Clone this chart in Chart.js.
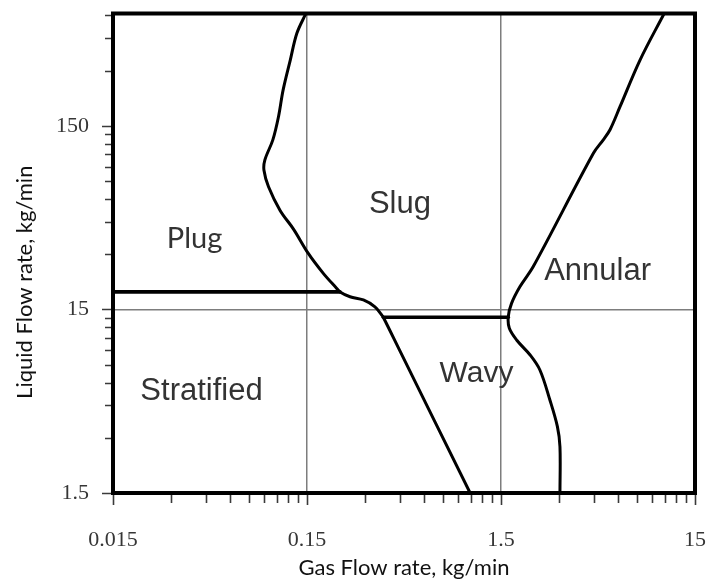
<!DOCTYPE html>
<html>
<head>
<meta charset="utf-8">
<script src="https://cdn.jsdelivr.net/npm/chart.js@4.4.1/dist/chart.umd.min.js"></script>
<style>
  html, body { margin: 0; padding: 0; background: #fff; }
  canvas { display: block; }
</style>
</head>
<body>
<canvas id="map" width="713" height="581"></canvas>
<script>
// ---- Flow regime map: gas vs liquid mass flow rate (kg/min), log-log ----

// Axis ranges
const gasRange = [0.015, 15];
const liquidRange = [1.5, 615];

// Tick positions (labelled decades plus unlabelled multiples)
const gasTicks = [0.015, 0.03, 0.045, 0.06, 0.075, 0.09, 0.105, 0.12, 0.135,
                  0.15, 0.3, 0.45, 0.6, 0.75, 0.9, 1.05, 1.2, 1.35,
                  1.5, 3, 4.5, 6, 7.5, 9, 10.5, 12, 13.5, 15];
const liquidTicks = [1.5, 3, 4.5, 6, 7.5, 9, 10.5, 12, 13.5,
                     15, 30, 45, 60, 75, 90, 105, 120, 135,
                     150, 300, 450, 600];
const gasLabels = [0.015, 0.15, 1.5, 15];
const liquidLabels = [1.5, 15, 150];

// Regime boundaries as [gas, liquid] pairs
const plugSlugBoundary = [
  [0.148, 615], [0.133, 480], [0.123, 343], [0.113, 236], [0.107, 169],
  [0.100, 126], [0.091, 98], [0.090, 86], [0.095, 70], [0.109, 52],
  [0.128, 41], [0.152, 30.4], [0.182, 23.6], [0.213, 19.6], [0.222, 18.7],
  [0.25, 17.6], [0.293, 16.9], [0.336, 15.5], [0.364, 14.0], [0.371, 13.6],
  [0.45, 9.0], [1.04, 1.5]
];
const plugStratifiedBoundary = [[0.015, 18.7], [0.222, 18.7]];
const slugWavyBoundary = [[0.371, 13.6], [1.635, 13.6]];
const annularBoundary = [
  [10.4, 615], [7.81, 343], [6.16, 191], [5.47, 143], [5.05, 126],
  [4.49, 106.5], [2.20, 25.7], [1.88, 20.0], [1.70, 16.2], [1.635, 13.7],
  [1.656, 11.85], [1.81, 10.2], [2.12, 8.47], [2.38, 7.02], [2.68, 4.82],
  [2.93, 3.45], [3.02, 2.68], [3.02, 1.5]
];

// Regime names and their anchor points (gas, liquid)
const regimeNames = ['Plug', 'Slug', 'Annular', 'Stratified', 'Wavy'];
const regimeGas = [0.0395, 0.452, 4.72, 0.0429, 1.121];
const regimeLiquid = [36.3, 55.7, 24.3, 5.39, 6.68];

// ---- styling ----
const serif = '"Liberation Serif", "Times New Roman", serif';
const sans = '"Liberation Sans", Arial, Helvetica, sans-serif';
const humanist = 'Lato, "Open Sans", sans-serif';
const regimeFonts = {
  Plug: '29px ' + humanist,
  Slug: '31px ' + sans,
  Annular: '31px ' + sans,
  Stratified: '31px ' + sans,
  Wavy: '30px ' + sans
};

const toPoints = pairs => pairs.map(([x, y]) => ({ x, y }));

const innerGrid = (values) => (c) =>
  (c.tick && values.includes(c.tick.value) &&
   c.tick.value !== values[0] && c.tick.value !== values[values.length - 1])
    ? '#7d7d7d' : 'rgba(0,0,0,0)';

// Scales keep a fixed size and add no edge padding of their own
const noEdgePadding = s => {
  s.paddingLeft = 0; s.paddingRight = 0; s.paddingTop = 0; s.paddingBottom = 0;
};

// Frame, tick marks, regime names and the vertical axis title
const decorations = {
  id: 'decorations',
  afterDraw(chart) {
    const { ctx, chartArea: a, scales: { x, y } } = chart;
    ctx.save();

    // tick marks outside the frame
    ctx.strokeStyle = '#3a3a3a';
    ctx.lineWidth = 1.6;
    ctx.beginPath();
    gasTicks.forEach(v => {
      const px = Math.round(x.getPixelForValue(v)) + 0.5;
      const major = gasLabels.includes(v);
      ctx.moveTo(px, a.bottom + (major ? 0 : 2));
      ctx.lineTo(px, a.bottom + (major ? 12 : 10));
    });
    liquidTicks.forEach(v => {
      const py = Math.round(y.getPixelForValue(v)) + 0.5;
      const major = liquidLabels.includes(v);
      ctx.moveTo(a.left, py);
      ctx.lineTo(a.left - (major ? 11 : 8), py);
    });
    ctx.stroke();

    // heavy frame
    ctx.strokeStyle = '#000';
    ctx.lineWidth = 4;
    ctx.strokeRect(a.left, a.top, a.right - a.left, a.bottom - a.top);

    // regime names
    ctx.fillStyle = '#333';
    ctx.textAlign = 'center';
    ctx.textBaseline = 'middle';
    regimeNames.forEach((name, i) => {
      ctx.font = regimeFonts[name];
      ctx.fillText(name, x.getPixelForValue(regimeGas[i]), y.getPixelForValue(regimeLiquid[i]));
    });

    // vertical axis title
    ctx.fillStyle = '#111';
    ctx.font = '22px ' + humanist;
    ctx.translate(25, (a.top + a.bottom) / 2 + 29);
    ctx.rotate(-Math.PI / 2);
    ctx.fillText('Liquid Flow rate, kg/min', 0, 0);
    ctx.restore();
  }
};

new Chart(document.getElementById('map'), {
  type: 'scatter',
  data: {
    datasets: [
      { data: toPoints(plugSlugBoundary), tension: 0.35, borderWidth: 3 },
      { data: toPoints(plugStratifiedBoundary), tension: 0, borderWidth: 3.6 },
      { data: toPoints(slugWavyBoundary), tension: 0, borderWidth: 3.6 },
      { data: toPoints(annularBoundary), tension: 0.35, borderWidth: 3 }
    ]
  },
  options: {
    responsive: false,
    animation: false,
    devicePixelRatio: 1,
    layout: { padding: { top: 13.5, right: 18, bottom: 0, left: 0 } },
    showLine: true,
    elements: {
      point: { radius: 0, hoverRadius: 0 },
      line: { borderColor: '#000', fill: false, borderCapStyle: 'round', borderJoinStyle: 'round' }
    },
    plugins: { legend: { display: false }, tooltip: { enabled: false } },
    scales: {
      x: {
        type: 'logarithmic',
        min: gasRange[0], max: gasRange[1],
        afterFit(s) { s.height = 88; noEdgePadding(s); },
        afterBuildTicks(s) { s.ticks = gasTicks.map(v => ({ value: v })); },
        border: { display: false },
        grid: { drawTicks: false, color: innerGrid(gasLabels), lineWidth: 1.5 },
        ticks: {
          autoSkip: false, maxRotation: 0, padding: 34,
          color: '#363636', font: { family: serif, size: 22 },
          callback: v => gasLabels.includes(v) ? String(v) : ''
        },
        title: {
          display: true, text: 'Gas Flow rate, kg/min', color: '#111',
          font: { family: humanist, size: 22 }, padding: { top: 0, bottom: 0 }
        }
      },
      y: {
        type: 'logarithmic',
        min: liquidRange[0], max: liquidRange[1],
        afterFit(s) { s.width = 113; noEdgePadding(s); },
        afterBuildTicks(s) { s.ticks = liquidTicks.map(v => ({ value: v })); },
        border: { display: false },
        grid: { drawTicks: false, color: innerGrid(liquidLabels), lineWidth: 1.5 },
        ticks: {
          autoSkip: false, padding: 24,
          color: '#363636', font: { family: serif, size: 22 },
          callback: v => liquidLabels.includes(v) ? String(v) : ''
        }
      }
    }
  },
  plugins: [decorations]
});
</script>
</body>
</html>
